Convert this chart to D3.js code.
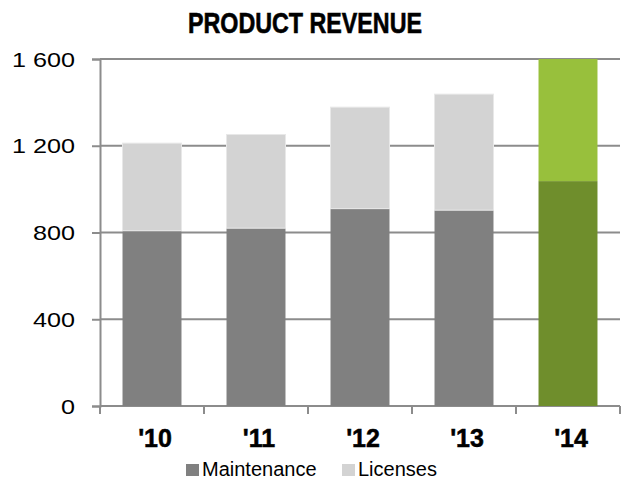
<!DOCTYPE html>
<html>
<head>
<meta charset="utf-8">
<script src="https://cdn.jsdelivr.net/npm/d3@7"></script>
<style>
  html, body { margin: 0; padding: 0; background: #fff; }
  svg { display: block; }
</style>
</head>
<body>
<svg id="chart" width="626" height="484"></svg>
<script>
// Product revenue by year, split into maintenance and licenses
const years = ["'10", "'11", "'12", "'13", "'14"];
const maintenance = [808, 820, 910, 903, 1037];
const licenses = [404, 432, 468, 535, 563];
const yTicks = [0, 400, 800, 1200, 1600];
const seriesNames = ["Maintenance", "Licenses"];

const svg = d3.select("#chart");
const plotLeft = 100, plotRight = 620, plotTop = 59, plotBottom = 406;

const sans = "'Liberation Sans', Arial, sans-serif";

const x = d3.scaleBand().domain(years).range([plotLeft, plotRight])
  .paddingInner(0.433).paddingOuter(0.2165);
const y = d3.scaleLinear().domain([0, 1600]).range([plotBottom, plotTop]);

// the last year is highlighted in green
const colors = (i, key) => {
  const last = i === years.length - 1;
  if (key === "Maintenance") return last ? "#6f8e2c" : "#808080";
  return last ? "#98c03c" : "#d3d3d3";
};

// gridlines
svg.append("g").selectAll("line").data(yTicks).join("line")
  .attr("x1", plotLeft).attr("x2", plotRight)
  .attr("y1", d => y(d)).attr("y2", d => y(d))
  .attr("stroke", "#8c8c8c").attr("stroke-width", 2);

// stacked bars
const rows = years.map((yr, i) => ({ yr, i, m: maintenance[i], l: licenses[i] }));
const bars = svg.append("g");
bars.selectAll("rect.m").data(rows).join("rect").attr("class", "m")
  .attr("x", d => x(d.yr)).attr("width", x.bandwidth())
  .attr("y", d => y(d.m)).attr("height", d => y(0) - y(d.m))
  .attr("fill", d => colors(d.i, "Maintenance"));
bars.selectAll("rect.l").data(rows).join("rect").attr("class", "l")
  .attr("x", d => x(d.yr)).attr("width", x.bandwidth())
  .attr("y", d => y(d.m + d.l)).attr("height", d => y(d.m) - y(d.m + d.l))
  .attr("fill", d => colors(d.i, "Licenses"))
  .attr("stroke", d => d.i === years.length - 1 ? "none" : "#e8e8e8")
  .attr("stroke-width", 1);

// y axis
const yAxis = svg.append("g").attr("transform", `translate(${plotLeft},0)`)
  .call(d3.axisLeft(y).tickValues(yTicks).tickSize(8).tickPadding(0));
yAxis.select(".domain").attr("stroke", "#8c8c8c").attr("stroke-width", 2);
yAxis.selectAll(".tick line").attr("stroke", "#8c8c8c").attr("stroke-width", 2);
yAxis.selectAll(".tick text")
  .attr("x", null).attr("dy", null)
  .attr("font-family", sans).attr("font-size", 21).attr("fill", "#000")
  .attr("text-anchor", "end").attr("dominant-baseline", "central")
  .attr("transform", "translate(-25,0) scale(1.2,1)")
  .text(d => d3.format(",")(d).replace(",", " "));

// x axis
const xAxis = svg.append("g").attr("transform", `translate(0,${plotBottom})`)
  .call(d3.axisBottom(x).tickSize(0).tickPadding(0));
xAxis.select(".domain").remove();
xAxis.selectAll(".tick text")
  .attr("y", 41).attr("dy", null).attr("dx", 3)
  .attr("font-family", sans).attr("font-weight", "bold")
  .attr("font-size", 25).attr("fill", "#000")
  .attr("stroke", "#000").attr("stroke-width", 0.5);
// tick marks at band boundaries
const bounds = d3.range(years.length + 1).map(i => plotLeft + i * x.step());
svg.append("g").selectAll("line").data(bounds).join("line")
  .attr("x1", d => d).attr("x2", d => d)
  .attr("y1", plotBottom).attr("y2", plotBottom + 8)
  .attr("stroke", "#8c8c8c").attr("stroke-width", 2);

// title, condensed to a narrow heavy face
svg.append("text").attr("x", 188).attr("y", 33)
  .attr("textLength", 234).attr("lengthAdjust", "spacingAndGlyphs")
  .attr("font-family", sans).attr("font-weight", "bold").attr("font-size", 29)
  .attr("fill", "#000").attr("stroke", "#000").attr("stroke-width", 0.6)
  .text("PRODUCT REVENUE");

// legend
const legendX = [186, 342];
const legend = svg.append("g").selectAll("g").data(seriesNames).join("g")
  .attr("transform", (d, i) => `translate(${legendX[i]},464)`);
legend.append("rect").attr("width", 13).attr("height", 12)
  .attr("fill", d => d === "Maintenance" ? "#808080" : "#d3d3d3");
legend.append("text").attr("x", 16).attr("y", 12)
  .attr("font-family", sans).attr("font-size", 20).attr("fill", "#000")
  .text(d => d);
</script>
</body>
</html>
